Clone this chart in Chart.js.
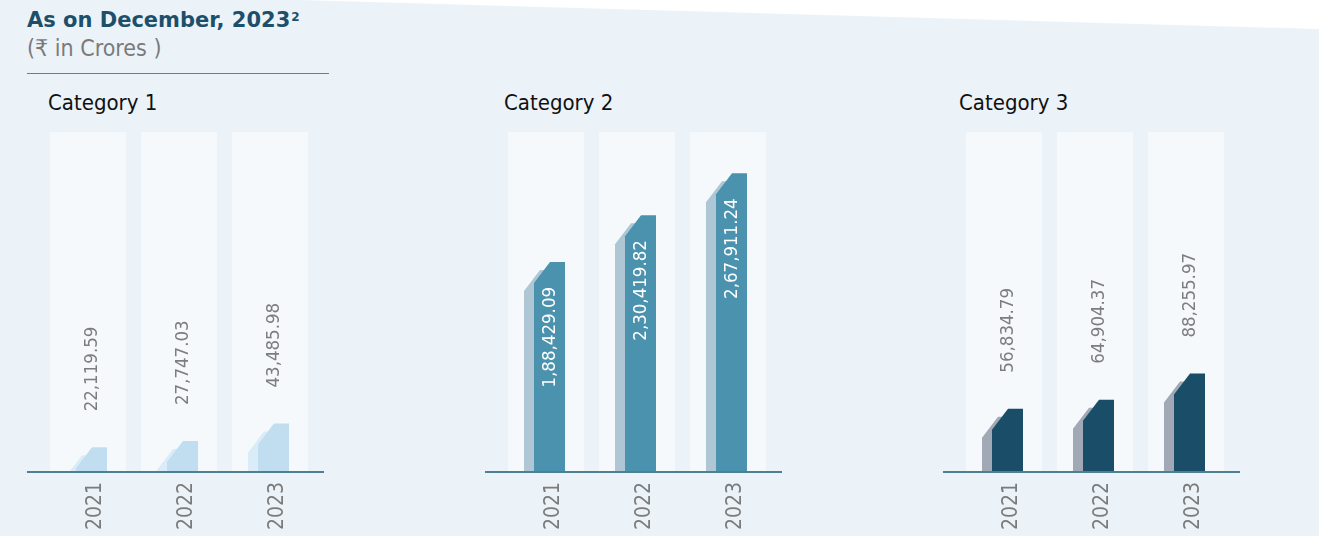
<!DOCTYPE html>
<html>
<head>
<meta charset="utf-8">
<script src="https://cdn.jsdelivr.net/npm/chart.js@4.4.0/dist/chart.umd.min.js"></script>
<style>
html, body { margin:0; padding:0; width:1319px; height:536px; overflow:hidden; background:#fff; font-family:"DejaVu Sans Condensed","DejaVu Sans",sans-serif; }
#bg { position:absolute; left:0; top:0; width:1319px; height:536px; background:#ebf3f9;
      clip-path: polygon(0 0, 300px 0, 1319px 29px, 1319px 536px, 0 536px); }
.title { position:absolute; left:27px; top:10px; font-family:"DejaVu Sans"; font-weight:bold; font-size:21px; line-height:21px; color:#1d4f6b; white-space:nowrap; }
.title sup { font-size:12px; vertical-align:top; position:relative; top:-3px; margin-left:1px; }
.sub { position:absolute; left:27px; top:37px; font-size:23px; line-height:23px; color:#7a7a7a; white-space:nowrap; }
.rule { position:absolute; left:27px; top:73px; width:302px; height:1px; background:#2f93bb; }
.head { position:absolute; top:92px; font-size:22px; line-height:22px; color:#111; white-space:nowrap; }
canvas { position:absolute; top:120px; }
</style>
</head>
<body>
<div id="bg"></div>
<div class="title">As on December, 2023<sup>2</sup></div>
<div class="sub">(₹ in Crores )</div>
<div class="rule"></div>
<div class="head" style="left:48px">Category 1</div>
<div class="head" style="left:504px">Category 2</div>
<div class="head" style="left:959px">Category 3</div>
<canvas id="c1" width="300" height="416" style="left:27px"></canvas>
<canvas id="c2" width="300" height="416" style="left:485px"></canvas>
<canvas id="c3" width="300" height="416" style="left:943px"></canvas>
<script>
// data (₹ in Crores)
const years = ["2021", "2022", "2023"];
const cat1Values = [22119.59, 27747.03, 43485.98];
const cat2Values = [188429.09, 230419.82, 267911.24];
const cat3Values = [56834.79, 64904.37, 88255.97];

const FONT = "'DejaVu Sans Condensed', 'DejaVu Sans', sans-serif";

// indian digit grouping: 1,88,429.09
function fmtIN(v) {
  const parts = v.toFixed(2).split(".");
  let last3 = parts[0].slice(-3);
  let rest = parts[0].slice(0, -3);
  if (rest) last3 = "," + last3;
  rest = rest.replace(/\B(?=(\d{2})+(?!\d))/g, ",");
  return rest + last3 + "." + parts[1];
}

function drawShape(ctx, xl, xr, yt, base, color) {
  if (yt >= base) return;
  const cw = 16, ch = 21;
  ctx.save();
  ctx.beginPath();
  ctx.rect(xl - 2, 0, xr - xl + 4, base);
  ctx.clip();
  ctx.beginPath();
  ctx.moveTo(xl, base + 40);
  ctx.lineTo(xl, yt + ch);
  ctx.lineTo(xl + cw, yt);
  ctx.lineTo(xr, yt);
  ctx.lineTo(xr, base + 40);
  ctx.closePath();
  ctx.fillStyle = color;
  ctx.fill();
  ctx.restore();
}

const bars3d = {
  id: "bars3d",
  beforeDatasetsDraw(chart, args, opts) {
    const ctx = chart.ctx, area = chart.chartArea, xs = chart.scales.x;
    ctx.save();
    ctx.fillStyle = "#f5f9fc";
    xs.ticks.forEach((t, i) => {
      const cx = xs.getPixelForTick(i);
      ctx.fillRect(cx - 38, area.top, 76, area.bottom - area.top);
    });
    ctx.restore();
  },
  afterDatasetsDraw(chart, args, opts) {
    const ctx = chart.ctx, area = chart.chartArea;
    const meta = chart.getDatasetMeta(0);
    const values = chart.data.datasets[0].data;
    meta.data.forEach((bar, i) => {
      const p = bar.getProps(["x", "y", "base"], true);
      drawShape(ctx, p.x - 22, p.x + 9, p.y + 8, p.base, opts.shadow);
      drawShape(ctx, p.x - 12, p.x + 19, p.y, p.base, opts.front);
      ctx.save();
      ctx.font = "18.5px " + FONT;
      ctx.textBaseline = "middle";
      if (opts.inside) {
        ctx.translate(p.x + 4, p.y + 25);
        ctx.rotate(-Math.PI / 2);
        ctx.textAlign = "right";
        ctx.fillStyle = "#ffffff";
      } else {
        ctx.translate(p.x + 4, p.y - 36);
        ctx.rotate(-Math.PI / 2);
        ctx.textAlign = "left";
        ctx.fillStyle = "#7d7d7d";
      }
      ctx.fillText(fmtIN(values[i]), 0, 0);
      ctx.restore();
    });
    // baseline across the whole panel
    ctx.save();
    ctx.strokeStyle = "#4e7f95";
    ctx.lineWidth = 2;
    ctx.beginPath();
    ctx.moveTo(0, area.bottom);
    ctx.lineTo(chart.width - 3, area.bottom);
    ctx.stroke();
    ctx.restore();
  }
};

function makePanel(id, values, front, shadow, inside) {
  return new Chart(document.getElementById(id), {
    type: "bar",
    data: {
      labels: years,
      datasets: [{ data: values, backgroundColor: "rgba(0,0,0,0)", barThickness: 31 }]
    },
    options: {
      responsive: false,
      animation: false,
      layout: { padding: { left: 15.5, right: 11.5, top: 12, bottom: 0 } },
      plugins: {
        legend: { display: false },
        tooltip: { enabled: false },
        bars3d: { front: front, shadow: shadow, inside: inside }
      },
      scales: {
        x: {
          grid: { display: false },
          border: { display: false },
          ticks: {
            minRotation: 90, maxRotation: 90, padding: 2, labelOffset: 8,
            color: "#7b7b7b", font: { family: FONT, size: 21 }
          },
          afterFit: (s) => { s.height = 64; }
        },
        y: { display: false, min: 0, max: 305000 }
      }
    },
    plugins: [bars3d]
  });
}

makePanel("c1", cat1Values, "#c0def0", "#daecf7", false);
makePanel("c2", cat2Values, "#4a92ad", "#afc7d4", true);
makePanel("c3", cat3Values, "#1a4e68", "#a1a9b7", false);
</script>
</body>
</html>
